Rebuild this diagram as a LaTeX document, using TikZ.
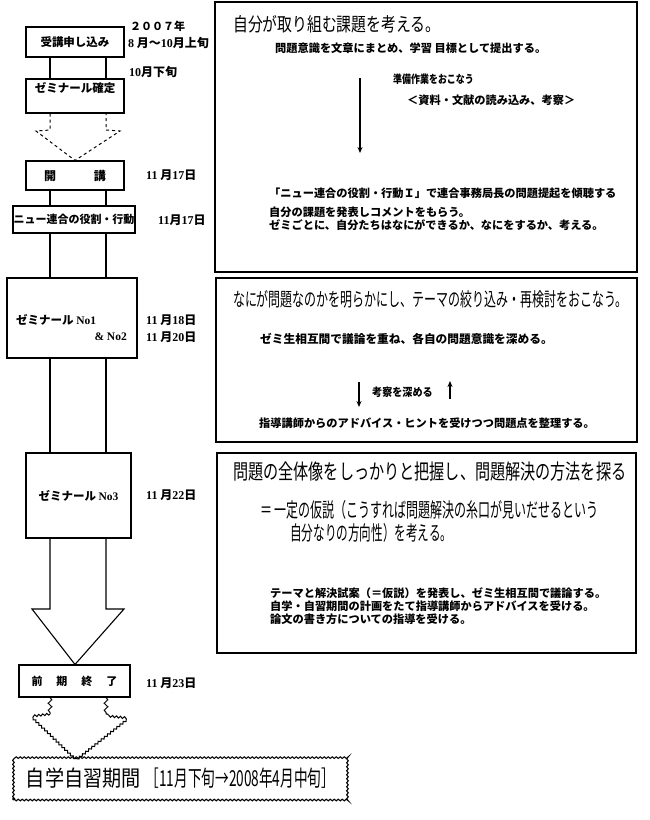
\documentclass[tikz,border=0pt]{standalone}
\usepackage{fontspec}
\setmainfont{Noto Sans CJK JP}
\newfontfamily\latf{Liberation Serif}
\usepackage{graphicx}
\usetikzlibrary{arrows.meta,decorations.pathmorphing}
\newcommand\nm[1]{{\latf\bfseries #1}}
\newcommand\cnd[3]{\scalebox{#1}[1]{\fontsize{#2}{#2}\selectfont #3}}
\begin{document}
\begin{tikzpicture}[x=1pt,y=-1pt,
  lbox/.style={draw, line width=1.1pt, inner sep=0pt, font=\fontsize{11.5}{13}\selectfont\bfseries},
  rbox/.style={draw, line width=1.5pt, inner sep=0pt},
  txt/.style={anchor=west, inner sep=0pt, font=\fontsize{11.2}{13.2}\selectfont\bfseries},
  dt/.style={anchor=west, inner sep=0pt, font=\fontsize{12}{14}\selectfont\bfseries},
  ttl/.style={anchor=west, inner sep=0pt},
  conn/.style={line width=1.1pt},
  arr/.style={line width=1.1pt, -{Stealth[length=6pt,width=5pt]}},
]
\useasboundingbox (0,0) rectangle (650,820);
\fill[white] (0,0) rectangle (650,820);

\coordinate (L) at (50,0);
\coordinate (R) at (106,0);
\coordinate (T) at (75,0);

% right boxes
\node[rbox, minimum width=422, minimum height=270] (r1) at (426,137) {};
\node[rbox, minimum width=421, minimum height=164] (r2) at (426.5,360) {};
\node[rbox, minimum width=419, minimum height=200] (r3) at (426.5,553) {};

% left boxes
\node[lbox, minimum width=98, minimum height=30] (b1) at (75,42) {受講申し込み};
\node[lbox, minimum width=98, minimum height=34, text height=11pt, text depth=19pt, inner ysep=2pt] (b2) at (75,96) {ゼミナール確定};
\node[lbox, minimum width=98, minimum height=29, font=\fontsize{12}{14}\selectfont\bfseries] (b3) at (75,175.5) {開\hspace{38pt}講};
\node[lbox, minimum width=122, minimum height=27, font=\fontsize{11}{13}\selectfont\bfseries] (b4) at (74,219.5) {ニュー連合の役割・行動};
\node[lbox, minimum width=130, minimum height=80] (b5) at (72,318) {};
\node[txt, font=\fontsize{11.5}{13}\selectfont\bfseries] (b5a) at (16,320) {ゼミナール \nm{No1}};
\node[txt, anchor=east, font=\fontsize{11.5}{13}\selectfont\bfseries] (b5b) at (127,337) {\nm{\&~No2}};
\node[lbox, minimum width=105, minimum height=85] (b6) at (78.5,495.5) {ゼミナール \nm{No3}};
\node[lbox, minimum width=111, minimum height=32, font=\fontsize{11}{13}\selectfont\bfseries] (b7) at (74.5,681) {前\hspace{14pt}期\hspace{14pt}終\hspace{14pt}了};
\node[lbox, minimum width=335, minimum height=43, decorate, decoration={snake, segment length=4pt, amplitude=0.8pt}, font=\fontsize{22}{24}\selectfont] (b8) at (180.5,778.5) {\cnd{0.87}{22}{自学自習期間}\hspace{5pt}\cnd{0.62}{22}{［11月下旬→2008年4月中旬］}};

% connectors
\foreach \u/\v in {b1/b2,b3/b4,b4/b5,b5/b6} {
  \draw[conn] (\u.south -| L) -- (\v.north -| L);
  \draw[conn] (\u.south -| R) -- (\v.north -| R);
}
\coordinate (dl) at (50,130); \coordinate (dls) at (36,131);
\coordinate (dr) at (106,130); \coordinate (drs) at (120,131);
\draw[line width=1pt, dash pattern=on 3pt off 3pt] (b2.south -| L) -- (dl) -- (dls) -- (b3.north -| T) -- (drs) -- (dr) -- (b2.south -| R);

\coordinate (al) at (50,609); \coordinate (als) at (32,609);
\coordinate (ar) at (106,609); \coordinate (ars) at (124,609);
\draw[conn] (b6.south -| L) -- (al) -- (als) -- (b7.north -| T) -- (ars) -- (ar) -- (b6.south -| R);

\coordinate (wl) at (50,714); \coordinate (wls) at (33,716);
\coordinate (wr) at (106,714); \coordinate (wrs) at (126,716);
\draw[line width=1pt, decorate, decoration={snake, segment length=7pt, amplitude=1.8pt}] (b7.south -| L) -- (wl);
\draw[line width=1pt, decorate, decoration={snake, segment length=7pt, amplitude=1.8pt}] (b7.south -| R) -- (wr);
\draw[line width=1pt, decorate, decoration={snake, segment length=4pt, amplitude=1pt}] (wl) -- (wls) -- (b8.north -| T) -- (wrs) -- (wr);

% box 1 texts
\node[ttl] (t1) at (233,24) {\cnd{0.78}{19}{自分が取り組む課題を考える。}};
\node[txt] (t2) at (275,48) {問題意識を文章にまとめ、学習 目標として提出する。};
\coordinate (a1s) at (360,78); \coordinate (a1e) at (360,153);
\draw[arr] (a1s) -- (a1e);
\node[txt] (t3) at (393,79) {\scalebox{0.8}[1]{準備作業をおこなう}};
\node[txt] (t4) at (407,100) {＜資料・文献の読み込み、考察＞};
\node[txt] (t5) at (269,193) {「ニュー連合の役割・行動Ｉ」で連合事務局長の問題提起を傾聴する};
\node[txt] (t6) at (269,212) {自分の課題を発表しコメントをもらう。};
\node[txt] (t6b) at (269,225) {ゼミごとに、自分たちはなにができるか、なにをするか、考える。};

% box 2 texts
\node[ttl] (t7) at (233,299) {\cnd{0.63}{19}{なにが問題なのかを明らかにし、テーマの絞り込み・再検討をおこなう。}};
\node[txt, font=\fontsize{11.7}{13}\selectfont\bfseries] (t8) at (260,339) {ゼミ生相互間で議論を重ね、各自の問題意識を深める。};
\coordinate (a2s) at (359,382); \coordinate (a2e) at (359,407);
\draw[arr] (a2s) -- (a2e);
\coordinate (a3s) at (450,399); \coordinate (a3e) at (450,381);
\draw[arr] (a3s) -- (a3e);
\node[txt] (t9) at (372,392) {\scalebox{0.9}[1]{考察を深める}};
\node[txt] (t10) at (259,423) {指導講師からのアドバイス・ヒントを受けつつ問題点を整理する。};

% box 3 texts
\node[ttl] (t11) at (233,472) {\cnd{0.72}{21}{問題の全体像をしっかりと把握し、問題解決の方法を探る}};
\node[ttl] (t12) at (260,510) {\cnd{0.6}{20}{＝ 一定の仮説（こうすれば問題解決の糸口が見いだせるという}};
\node[ttl] (t13) at (290,533) {\cnd{0.58}{20}{自分なりの方向性）を考える。}};
\node[txt] (t14) at (270,593) {テーマと解決試案（＝仮説）を発表し、ゼミ生相互間で議論する。};
\node[txt] (t15) at (270,606) {自学・自習期間の計画をたて指導講師からアドバイスを受ける。};
\node[txt] (t16) at (270,619) {論文の書き方についての指導を受ける。};

% dates
\node[dt, font=\fontsize{11}{13}\selectfont\bfseries] (d0) at (130,26) {２００７年};
\node[dt] (d1) at (128,43) {\nm{8} 月～\nm{10}月上旬};
\node[dt] (d2) at (129,72) {\nm{10}月下旬};
\node[dt] (d3) at (146,175) {\nm{11} 月\nm{17}日};
\node[dt] (d4) at (158,220) {\nm{11}月\nm{17}日};
\node[dt] (d5) at (146,320) {\nm{11} 月\nm{18}日};
\node[dt] (d6) at (146,337) {\nm{11} 月\nm{20}日};
\node[dt] (d7) at (146,495) {\nm{11} 月\nm{22}日};
\node[dt] (d8) at (146,683) {\nm{11} 月\nm{23}日};
\end{tikzpicture}
\end{document}
